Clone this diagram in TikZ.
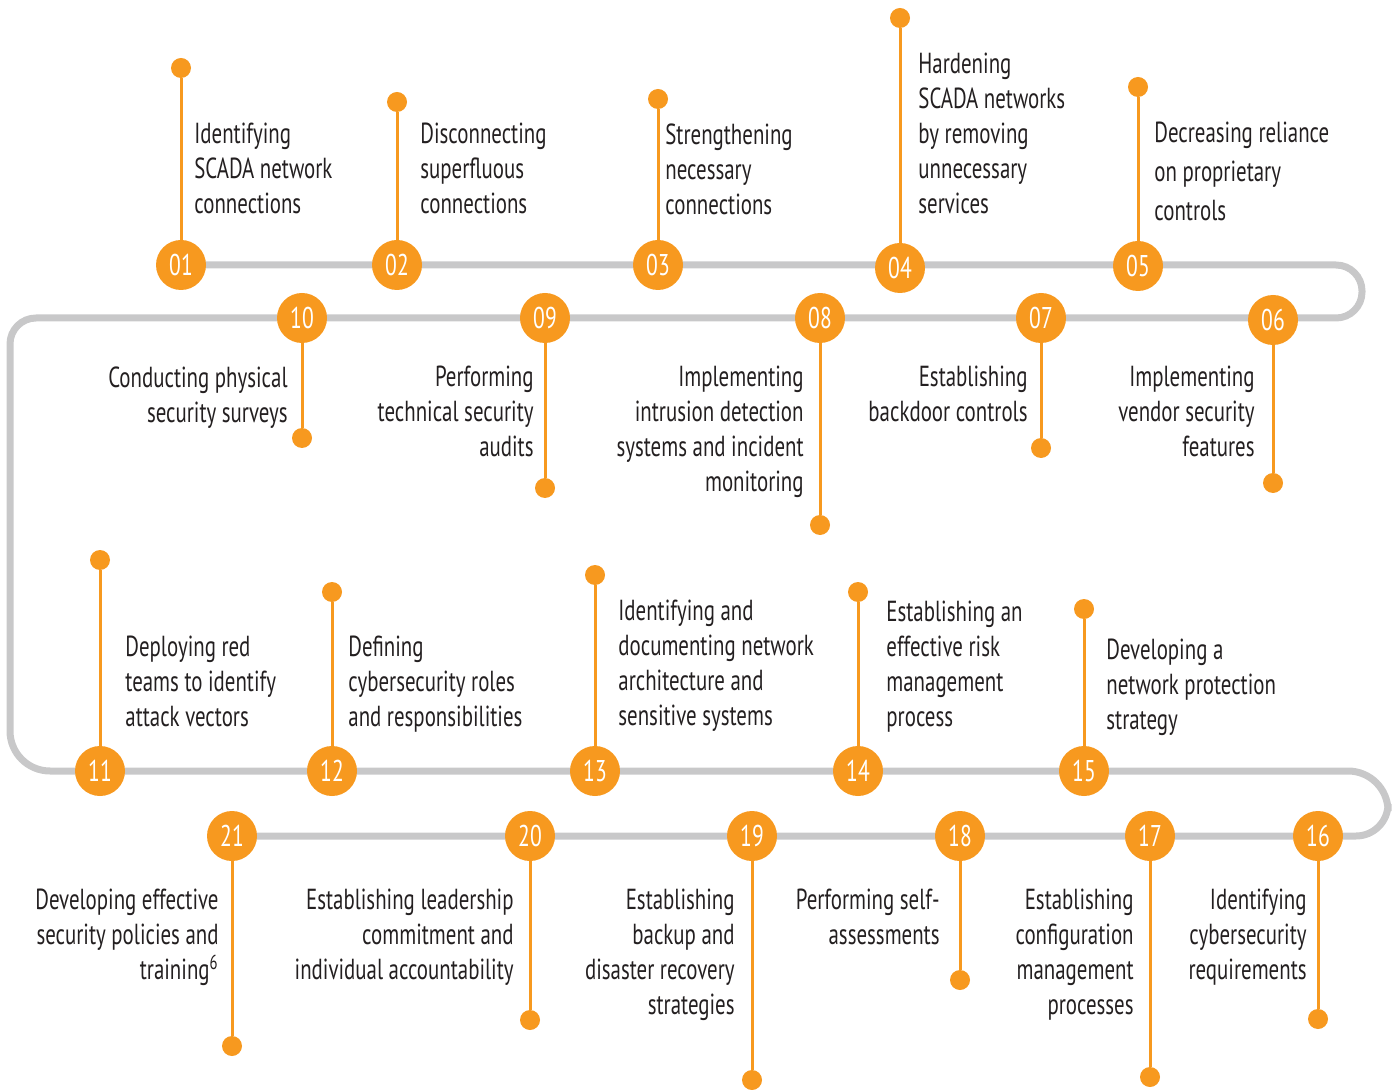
\documentclass[tikz,border=0pt]{standalone}
\usepackage{fontspec}
\setmainfont{PT Sans}[FakeStretch=0.72]
\usepackage{tikz}
\usetikzlibrary{backgrounds}
\definecolor{stepOrange}{HTML}{F7991F}
\definecolor{trackGray}{HTML}{C8C8C9}
\definecolor{labelText}{HTML}{231F20}
\tikzset{
    step-circle/.style = {circle, fill=stepOrange, text=white, minimum size=25pt, inner sep=0pt, font=\fontsize{15}{15}\selectfont},
    step-dot/.style = {circle, fill=stepOrange, minimum size=10pt, inner sep=0pt},
    step-stem/.style = {draw=stepOrange, line width=1.5pt},
    track/.style = {draw=trackGray, line width=3.5pt},
    step-label/.style = {text=labelText, inner sep=0pt, font=\fontsize{14.5}{17.5}\selectfont},
}

\begin{document}
\begin{tikzpicture}[x=0.5pt, y=-0.5pt]
\useasboundingbox (0,0) rectangle (1396,1090);
% number / x / circle y / dot y
\foreach \n/\x/\y/\dy in {01/181/265/68, 02/397/265/102, 03/658/265/99, 04/900/268/18, 05/1138/266/87,
    06/1273/320/483, 07/1041/318/448, 08/820/318/525, 09/545/318/488, 10/302/318/438,
    11/100/771/560, 12/332/771/592, 13/595/771/575, 14/858/771/592, 15/1084/771/609,
    16/1318/836/1019, 17/1150/836/1077, 18/960/836/980, 19/752/836/1080, 20/530/836/1020, 21/232/836/1046}{
    \node[step-dot] (d\n) at (\x,\dy) {};
    \node[step-circle] (c\n) at (\x,\y) {\n};
    \draw[step-stem] (d\n) -- (c\n);
}
% the winding track
\begin{scope}[on background layer]
\draw[track] (c01.center) [rounded corners=13pt] -- (1362,265) -- (1362,318) -- (10,318)
    [rounded corners=20pt] -- (10,771) -- (1388,771)
    [rounded corners=16pt] -- (1388,836) -- (c21.center);
\end{scope}

% first row
\node[step-label, anchor=north west, align=left] (t01) at (194,123) {Identifying\\SCADA network\\connections};
\node[step-label, anchor=north west, align=left] (t02) at (420,123) {Disconnecting\\superfluous\\connections};
\node[step-label, anchor=north west, align=left] (t03) at (665,123) {Strengthening\\necessary\\connections};
\node[step-label, anchor=north west, align=left] (t04) at (918,53) {Hardening\\SCADA networks\\by removing\\unnecessary\\services};
\node[step-label, anchor=north west, align=left] (t05) at (1154,122) {Decreasing reliance\\[2pt]on proprietary\\[2pt]controls};
% second row
\node[step-label, anchor=north east, align=right] (t10) at (288,366) {Conducting physical\\security surveys};
\node[step-label, anchor=north east, align=right] (t09) at (534,366) {Performing\\technical security\\audits};
\node[step-label, anchor=north east, align=right] (t08) at (804,366) {Implementing\\intrusion detection\\systems and incident\\monitoring};
\node[step-label, anchor=north east, align=right] (t07) at (1028,366) {Establishing\\backdoor controls};
\node[step-label, anchor=north east, align=right] (t06) at (1255,366) {Implementing\\vendor security\\features};
% third row
\node[step-label, anchor=north west, align=left] (t11) at (125,636) {Deploying red\\teams to identify\\attack vectors};
\node[step-label, anchor=north west, align=left] (t12) at (348,636) {Defining\\cybersecurity roles\\and responsibilities};
\node[step-label, anchor=north west, align=left] (t13) at (618,600) {Identifying and\\documenting network\\architecture and\\sensitive systems};
\node[step-label, anchor=north west, align=left] (t14) at (886,601) {Establishing an\\effective risk\\management\\process};
\node[step-label, anchor=north west, align=left] (t15) at (1106,639) {Developing a\\network protection\\strategy};
% fourth row
\node[step-label, anchor=north east, align=right] (t21) at (219,889) {Developing effective\\security policies and\\training\textsuperscript{6}};
\node[step-label, anchor=north east, align=right] (t20) at (514,889) {Establishing leadership\\commitment and\\individual accountability};
\node[step-label, anchor=north east, align=right] (t19) at (735,889) {Establishing\\backup and\\disaster recovery\\strategies};
\node[step-label, anchor=north east, align=right] (t18) at (940,889) {Performing self-\\assessments};
\node[step-label, anchor=north east, align=right] (t17) at (1134,889) {Establishing\\configuration\\management\\processes};
\node[step-label, anchor=north east, align=right] (t16) at (1307,889) {Identifying\\cybersecurity\\requirements};
\end{tikzpicture}
\end{document}
